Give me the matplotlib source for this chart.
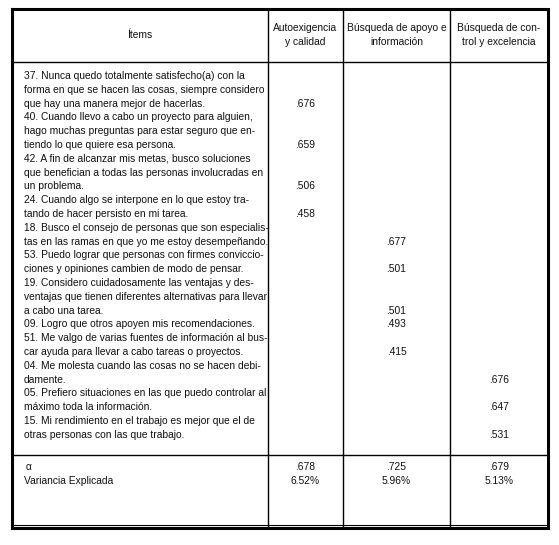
import matplotlib
matplotlib.use("Agg")
import matplotlib.pyplot as plt

headers = ["Ítems", "Autoexigencia\ny calidad", "Búsqueda de apoyo e\ninformación", "Búsqueda de con-\ntrol y excelencia"]
items = [
    ["37. Nunca quedo totalmente satisfecho(a) con la", "forma en que se hacen las cosas, siempre considero", "que hay una manera mejor de hacerlas."],
    ["40. Cuando llevo a cabo un proyecto para alguien,", "hago muchas preguntas para estar seguro que en-", "tiendo lo que quiere esa persona."],
    ["42. A fin de alcanzar mis metas, busco soluciones", "que benefician a todas las personas involucradas en", "un problema."],
    ["24. Cuando algo se interpone en lo que estoy tra-", "tando de hacer persisto en mi tarea."],
    ["18. Busco el consejo de personas que son especialis-", "tas en las ramas en que yo me estoy desempeñando."],
    ["53. Puedo lograr que personas con firmes conviccio-", "ciones y opiniones cambien de modo de pensar."],
    ["19. Considero cuidadosamente las ventajas y des-", "ventajas que tienen diferentes alternativas para llevar", "a cabo una tarea."],
    ["09. Logro que otros apoyen mis recomendaciones."],
    ["51. Me valgo de varias fuentes de información al bus-", "car ayuda para llevar a cabo tareas o proyectos."],
    ["04. Me molesta cuando las cosas no se hacen debi-", "damente."],
    ["05. Prefiero situaciones en las que puedo controlar al", "máximo toda la información."],
    ["15. Mi rendimiento en el trabajo es mejor que el de", "otras personas con las que trabajo."],
]
factor = [0, 0, 0, 0, 1, 1, 1, 1, 1, 2, 2, 2]
loadings = [".676", ".659", ".506", ".458", ".677", ".501", ".501", ".493", ".415", ".676", ".647", ".531"]
alpha = [".678", ".725", ".679"]
variance = ["6.52%", "5.96%", "5.13%"]

W, H = 559, 545
fig = plt.figure(figsize=(W/100, H/100), dpi=100)
ax = fig.add_axes([0, 0, 1, 1])
ax.set_xlim(0, W); ax.set_ylim(H, 0); ax.axis("off")

L, R, T, B = 12, 548, 9, 528
cols = [L, 268, 343, 450, R]
hdr_b, foot_t = 62, 455
fs = 7.4
fam = ["Liberation Sans", "DejaVu Sans"]
kw = dict(fontsize=fs, family=fam, color="#111111")

ax.plot([L, R, R, L, L], [T, T, B, B, T], color="black", lw=2.2, solid_joinstyle="miter")
for x in cols[1:-1]:
    ax.plot([x, x], [T, B], color="black", lw=1)
for y in (hdr_b, foot_t):
    ax.plot([L, R], [y, y], color="black", lw=1)
ax.plot([L, R], [B - 3, B - 3], color="black", lw=0.8)

centers = [(cols[i] + cols[i+1]) / 2 for i in range(4)]
for i, h in enumerate(headers):
    ax.text(centers[i], 35, h, ha="center", va="center", linespacing=1.5, **kw)

y0, dy = 76, 13.8
k = 0
for it, f, v in zip(items, factor, loadings):
    for line in it:
        ax.text(24, y0 + k*dy, line, ha="left", va="center", **kw)
        k += 1
    ax.text(centers[f+1], y0 + (k-1)*dy, v, ha="center", va="center", **kw)

ax.text(26, 467, "α", ha="left", va="center", **kw)
ax.text(24, 481, "Variancia Explicada", ha="left", va="center", **kw)
for i in range(3):
    ax.text(centers[i+1], 467, alpha[i], ha="center", va="center", **kw)
    ax.text(centers[i+1], 481, variance[i], ha="center", va="center", **kw)

fig.savefig("out.png", dpi=100, facecolor="white")
